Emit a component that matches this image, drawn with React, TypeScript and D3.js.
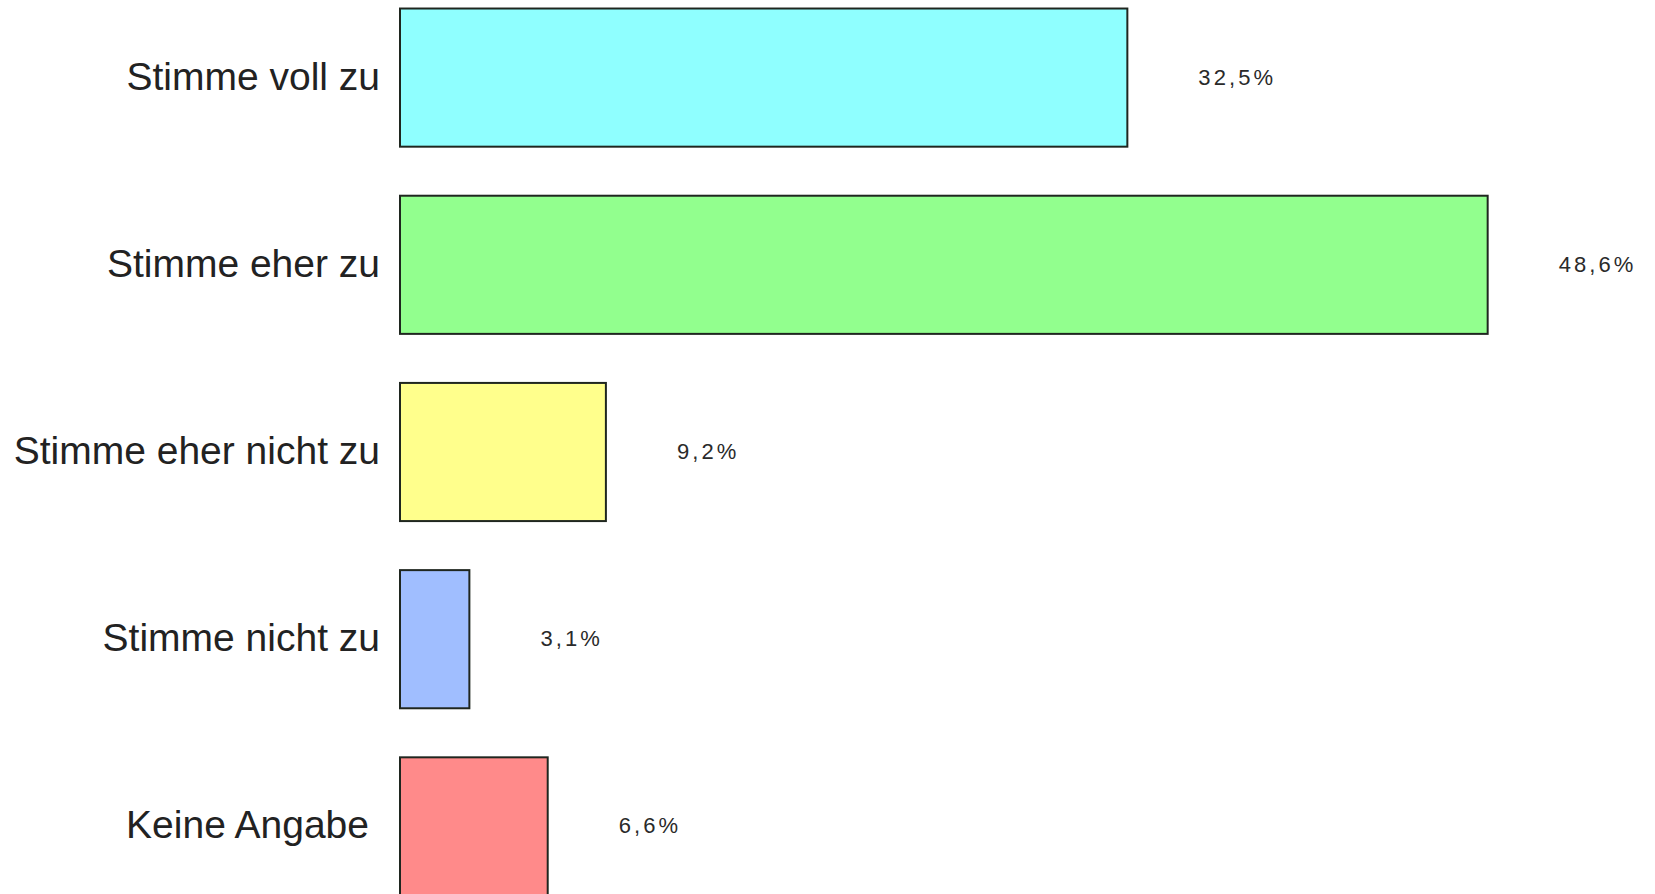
import React from "react";
import * as d3 from "d3";

const categories = [
  "Stimme voll zu",
  "Stimme eher zu",
  "Stimme eher nicht zu",
  "Stimme nicht zu",
  "Keine Angabe",
];
const values = [32.5, 48.6, 9.2, 3.1, 6.6];
const valueLabels = ["32,5%", "48,6%", "9,2%", "3,1%", "6,6%"];
const colors = ["#8FFFFF", "#92FF8E", "#FFFF8C", "#A0BEFF", "#FF8A8A"];

const W = 1655;
const H = 894;

export default function App() {
  const y = d3
    .scaleBand<string>()
    .domain(categories)
    .range([-16, 920])
    .paddingInner(0.262)
    .paddingOuter(0.131);
  const x = d3.scaleLinear().domain([0, 50]).range([400, 400 + 50 * 22.38]);
  const bw = y.bandwidth();

  return (
    <svg
      width={W}
      height={H}
      style={{ position: "absolute", left: 0, top: 0, background: "#fff" }}
    >
      <rect x={0} y={0} width={W} height={H} fill="#fff" />
      {categories.map((c, i) => {
        const y0 = y(c)!;
        const cy = y0 + bw / 2;
        const labelX = i === categories.length - 1 ? 369 : 380;
        return (
          <g key={c}>
            <rect
              x={x(0)}
              y={y0}
              width={x(values[i]) - x(0)}
              height={bw}
              fill={colors[i]}
              stroke="#1f261f"
              strokeWidth={2}
            />
            <text
              x={labelX}
              y={cy + 12}
              textAnchor="end"
              fontFamily="'Liberation Sans', Arial, sans-serif"
              fontSize={39}
              fill="#222"
            >
              {c}
            </text>
            <text
              x={x(values[i]) + 71}
              y={cy + 7}
              textAnchor="start"
              fontFamily="'Liberation Sans', Arial, sans-serif"
              fontSize={22}
              letterSpacing={3.1}
              fill="#2a2a2a"
            >
              {valueLabels[i]}
            </text>
          </g>
        );
      })}
    </svg>
  );
}
